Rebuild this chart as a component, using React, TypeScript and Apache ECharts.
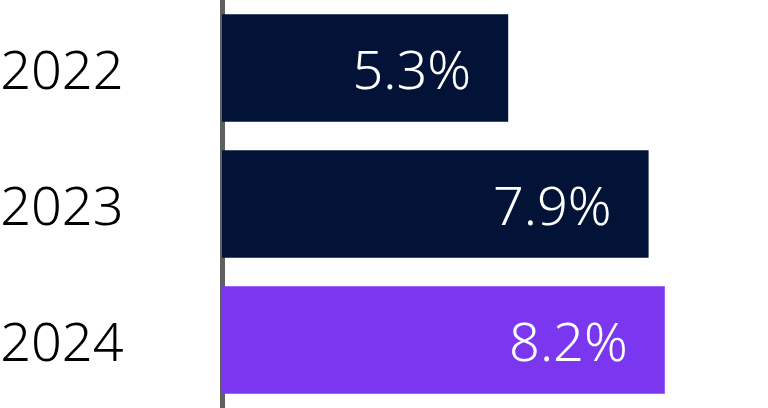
import React, { useEffect, useRef } from "react";
import * as echarts from "echarts";

const years = ["2022", "2023", "2024"];
const growth = [5.3, 7.9, 8.2];
const barColors = ["#021337", "#021337", "#7B36EF"];

export default function App() {
  const ref = useRef<HTMLDivElement>(null);

  useEffect(() => {
    document.body.style.margin = "0";
    if (!ref.current) return;
    const chart = echarts.init(ref.current, null, { renderer: "svg" });
    const font = "'Noto Sans', 'Open Sans', sans-serif";
    chart.setOption({
      animation: false,
      grid: { left: 222, top: 0, bottom: 0, width: 540, outerBoundsMode: "none", containLabel: false },
      xAxis: {
        type: "value",
        min: 0,
        max: 10,
        show: false,
      },
      yAxis: {
        type: "category",
        data: years,
        inverse: true,
        offset: 2.5,
        axisLine: { show: true, lineStyle: { color: "#606060", width: 5 } },
        axisTick: { show: false },
        axisLabel: {
          margin: 96,
          color: "#000000",
          fontSize: 54,
          fontWeight: 350,
          fontFamily: font,
        },
      },
      series: [
        {
          type: "bar",
          data: growth.map((v, i) => ({ value: v, itemStyle: { color: barColors[i] } })),
          barWidth: "79%",
          label: {
            show: true,
            position: "insideRight",
            distance: 37,
            formatter: "{c}%",
            color: "#ffffff",
            fontSize: 54,
            fontWeight: 350,
            fontFamily: font,
          },
        },
      ],
    });
    return () => chart.dispose();
  }, []);

  return <div ref={ref} style={{ width: 768, height: 408 }} />;
}
